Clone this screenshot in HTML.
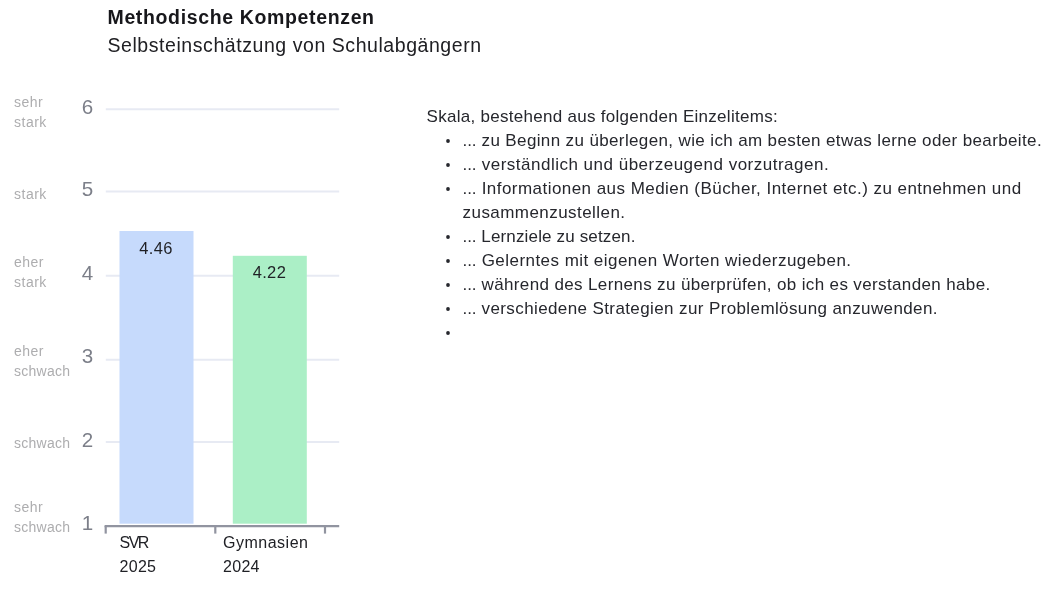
<!DOCTYPE html>
<html lang="de">
<head>
<meta charset="utf-8">
<title>Methodische Kompetenzen</title>
<style>
  html, body { margin: 0; padding: 0; background: #ffffff; }
  body { width: 1046px; height: 616px; position: relative; overflow: hidden;
         font-family: "Liberation Sans", sans-serif; color: #26272d; }
  .head { position: absolute; left: 107.5px; top: 0; margin: 0; white-space: nowrap; }
  h1.head { top: 3.1px; font-size: 19.5px; line-height: 29px; font-weight: 700; color: #17171b; letter-spacing: 0.64px; }
  h2.head { top: 31.2px; font-size: 19.5px; line-height: 29px; font-weight: 400; color: #202024; letter-spacing: 0.56px; }
  svg.chart { position: absolute; left: 0; top: 80px; }
  svg.chart text { font-family: "Liberation Sans", sans-serif; }
  .cat { font-size: 14px; fill: #adadaf; letter-spacing: 0.5px; }
  .num { font-size: 20.6px; fill: #7c7f89; }
  .val { font-size: 16.5px; fill: #1f2025; text-anchor: middle; letter-spacing: 0.35px; }
  .xl  { font-size: 16px; fill: #202126; }
  .skala { position: absolute; left: 426.6px; top: 104.6px; width: 619px; font-size: 17px; line-height: 24px; }
  .skala p { margin: 0; white-space: nowrap; letter-spacing: 0.2px; }
  .skala ul { margin: 0; padding: 0; list-style: none; }
  .skala li { position: relative; padding-left: 36px; white-space: nowrap; height: 24px; letter-spacing: 0.2px; }
  .skala .e { letter-spacing: -0.1px; }
  .skala li.two { height: 48px; }
  .skala li::before { content: ""; position: absolute; left: 18px; top: 9px; width: 6px; height: 6px; border-radius: 50%; background: #26272d; transform: scale(0.63); }
</style>
</head>
<body>
<h1 class="head">Methodische Kompetenzen</h1>
<h2 class="head">Selbsteinschätzung von Schulabgängern</h2>

<svg class="chart" width="400" height="536" viewBox="0 80 400 536">
  <!-- grid -->
  <g stroke="#e7eaf3" stroke-width="2">
    <line x1="105.8" y1="109.2" x2="339.2" y2="109.2"/>
    <line x1="105.8" y1="191.5" x2="339.2" y2="191.5"/>
    <line x1="105.8" y1="275.8" x2="339.2" y2="275.8"/>
    <line x1="105.8" y1="359.7" x2="339.2" y2="359.7"/>
    <line x1="105.8" y1="442.0" x2="339.2" y2="442.0"/>
  </g>
  <!-- bars -->
  <rect x="119.5" y="231" width="74" height="292.7" fill="#c6dafc"/>
  <rect x="232.8" y="255.8" width="74" height="267.9" fill="#abefc6"/>
  <!-- axis -->
  <g stroke="#9194a0" stroke-width="2.2" fill="none">
    <line x1="104.6" y1="526.1" x2="339.2" y2="526.1"/>
    <line x1="105.7" y1="526" x2="105.7" y2="533.6"/>
    <line x1="215.3" y1="526" x2="215.3" y2="533.6"/>
    <line x1="325" y1="526" x2="325" y2="533.6"/>
  </g>
  <!-- category labels -->
  <g class="cat">
    <text x="14" y="106.7">sehr</text><text x="14" y="126.7">stark</text>
    <text x="14" y="198.9">stark</text>
    <text x="14" y="266.8">eher</text><text x="14" y="286.8">stark</text>
    <text x="14" y="355.7">eher</text><text x="14" y="375.7" style="letter-spacing:0.25px">schwach</text>
    <text x="14" y="447.5" style="letter-spacing:0.25px">schwach</text>
    <text x="14" y="511.8">sehr</text><text x="14" y="531.9" style="letter-spacing:0.25px">schwach</text>
  </g>
  <g class="num">
    <text x="81.7" y="113.5">6</text>
    <text x="81.7" y="195.9">5</text>
    <text x="81.7" y="280.1">4</text>
    <text x="81.7" y="363.2">3</text>
    <text x="81.7" y="447.1">2</text>
    <text x="81.7" y="529.6">1</text>
  </g>
  <text class="val" x="156" y="253.7">4.46</text>
  <text class="val" x="269.4" y="278">4.22</text>
  <g class="xl">
    <text x="119.5" y="548.1" style="letter-spacing:-1.5px">SVR</text><text x="119.5" y="571.6" style="letter-spacing:0.3px">2025</text>
    <text x="223" y="548.1" style="letter-spacing:0.5px">Gymnasien</text><text x="223" y="571.6" style="letter-spacing:0.3px">2024</text>
  </g>
</svg>

<div class="skala">
  <p style="letter-spacing:0.28px">Skala, bestehend aus folgenden Einzelitems:</p>
  <ul>
    <li style="letter-spacing:0.37px"><span class="e">...</span> zu Beginn zu überlegen, wie ich am besten etwas lerne oder bearbeite.</li>
    <li style="letter-spacing:0.498px"><span class="e">...</span> verständlich und überzeugend vorzutragen.</li>
    <li class="two" style="letter-spacing:0.456px"><span class="e">...</span> Informationen aus Medien (Bücher, Internet etc.) zu entnehmen und<br><span style="letter-spacing:0.44px">zusammenzustellen.</span></li>
    <li style="letter-spacing:0.15px"><span class="e">...</span> Lernziele zu setzen.</li>
    <li style="letter-spacing:0.456px"><span class="e">...</span> Gelerntes mit eigenen Worten wiederzugeben.</li>
    <li style="letter-spacing:0.366px"><span class="e">...</span> während des Lernens zu überprüfen, ob ich es verstanden habe.</li>
    <li style="letter-spacing:0.39px"><span class="e">...</span> verschiedene Strategien zur Problemlösung anzuwenden.</li>
    <li></li>
  </ul>
</div>
</body>
</html>
